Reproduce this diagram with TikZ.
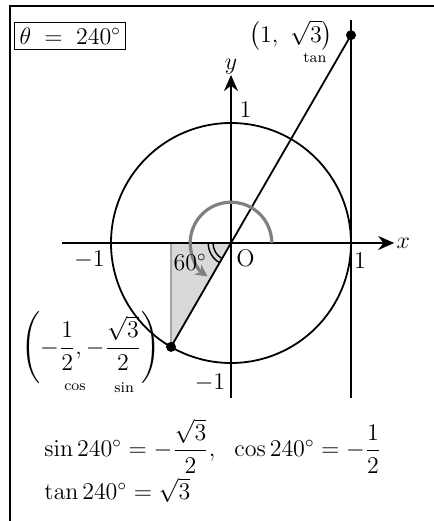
\documentclass[tikz,border=0pt]{standalone}
\usepackage{amsmath}
\usetikzlibrary{arrows.meta,positioning,calc}
\definecolor{ArcGray}{RGB}{128,128,128}
\definecolor{ShadeGray}{RGB}{217,217,217}
\tikzset{
  axis/.style={-{Stealth[length=8pt,width=7pt]},line width=1pt},
  curve/.style={line width=0.9pt},
  lbl/.style={font=\fontsize{12}{14}\selectfont,inner sep=1pt},
  eqn/.style={font=\fontsize{11.5}{14}\selectfont,inner sep=1pt,anchor=west},
  small/.style={font=\fontsize{7.5}{9}\selectfont,inner sep=1pt},
  dot/.style={circle,fill=black,inner sep=0pt,minimum size=5pt},
  rotarc/.style={ArcGray,line width=1.6pt,-{Stealth[length=6pt,width=6pt]}},
}

\begin{document}
\begin{tikzpicture}[x=60pt,y=60pt]
  \useasboundingbox (-1.925,-2.3167) rectangle (1.6917,2.025);
  % frame
  \coordinate (fbl) at (-1.842,-2.4);
  \coordinate (ftl) at (-1.842,1.975);
  \coordinate (ftr) at (1.75,1.975);
  \draw[line width=1pt] (fbl) -- (ftl) -- (ftr);
  % points
  \coordinate (O) at (0,0);
  \coordinate (foot) at (-0.5,0);
  \coordinate (P) at (-0.5,-0.866);
  \coordinate (T) at (1,1.732);
  % shaded triangle
  \filldraw[fill=ShadeGray,draw=gray,line width=0.6pt] (O) -- (foot) -- (P) -- cycle;
  % axes
  \coordinate (xmin) at (-1.41,0);
  \coordinate (xmax) at (1.36,0);
  \coordinate (ymin) at (0,-1.29);
  \coordinate (ymax) at (0,1.40);
  \draw[axis] (xmin) -- (xmax);
  \draw[axis] (ymin) -- (ymax);
  \node[lbl,right=0pt of xmax] (xl) {$x$};
  \node[lbl,above=-1pt of ymax] (yl) {$y$};
  % unit circle and tangent line
  \draw[curve] (O) circle (1);
  \coordinate (ttop) at (1,1.858);
  \coordinate (tbot) at (1,-1.29);
  \draw[curve] (ttop) -- (tbot);
  \draw[curve] (T) -- (P);
  % angles
  \draw[rotarc] ($(O)+(0.34,0)$) arc[start angle=0,end angle=235,radius=0.34];
  \draw[line width=0.7pt] ($(O)+(-0.15,0)$) arc[start angle=180,end angle=240,radius=0.15];
  \draw[line width=0.7pt] ($(O)+(-0.19,0)$) arc[start angle=180,end angle=240,radius=0.19];
  \node[dot] (Pd) at (P) {};
  \node[dot] (Td) at (T) {};
  % tick labels
  \node[lbl] (one) at (0.12,1.11) {$1$};
  \node[lbl] (mone) at (-1.18,-0.14) {$-1$};
  \node[lbl] (xone) at (1.075,-0.15) {$1$};
  \node[lbl] (orig) at (0.12,-0.125) {$\mathrm{O}$};
  \node[lbl] (ymone) at (-0.175,-1.167) {$-1$};
  \node[lbl] (ang) at (-0.34,-0.16) {$60^\circ$};
  % texts
  \node[lbl,draw,line width=0.6pt,inner sep=2.5pt] (theta) at (-1.34,1.725) {$\theta\;=\;240^\circ$};
  \node[lbl,anchor=east] (Tl) at (0.87,1.73) {$\left(1,\ \sqrt{3}\right)$};
  \node[small] (tanl) at (0.70,1.545) {tan};
  \node[lbl,anchor=east] (Pl) at (-0.57,-0.875) {$\left(-\dfrac{1}{2},-\dfrac{\sqrt{3}}{2}\right)$};
  \node[small] (cosl) at (-1.3,-1.205) {cos};
  \node[small] (sinl) at (-0.89,-1.205) {sin};
  \node[eqn] (sincos) at (-1.575,-1.69)
    {$\sin 240^\circ=-\dfrac{\sqrt{3}}{2},\ \ \cos 240^\circ=-\dfrac{1}{2}$};
  \node[eqn] (tanv) at (-1.575,-2.06) {$\tan 240^\circ=\sqrt{3}$};
\end{tikzpicture}
\end{document}
